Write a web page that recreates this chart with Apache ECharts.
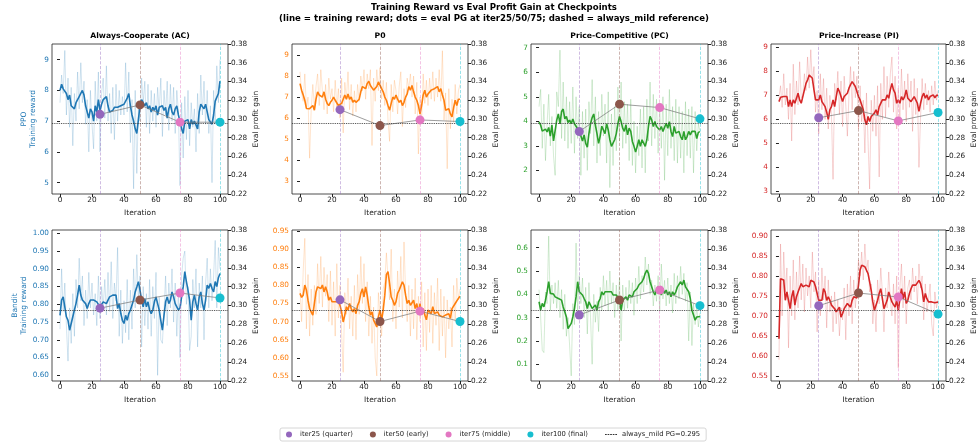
<!DOCTYPE html>
<html>
<head>
<meta charset="utf-8">
<script src="https://cdn.jsdelivr.net/npm/echarts@6/dist/echarts.min.js"></script>
<style>
  html, body { margin: 0; padding: 0; background: #fff; }
  #chart { width: 979px; height: 447px; }
</style>
</head>
<body>
<div id="chart"></div>
<script>
// ---- data ----
const ITERS = Array.from({ length: 101 }, (_, i) => i);
const CHECKPOINTS = [25, 50, 75, 100];
const CHECKPOINT_NAMES = ['iter25 (quarter)', 'iter50 (early)', 'iter75 (middle)', 'iter100 (final)'];
const REF_PG = 0.295;
const REF_NAME = 'always_mild PG=0.295';
const OPPONENTS = ['Always-Cooperate (AC)', 'P0', 'Price-Competitive (PC)', 'Price-Increase (PI)'];
const AGENTS = ['PPO', 'Bandit'];
const X_TICKS = [0, 20, 40, 60, 80, 100];
const RIGHT_TICKS = [0.22, 0.24, 0.26, 0.28, 0.30, 0.32, 0.34, 0.36, 0.38];

// PPO row
const acPpoRaw = [
  7.6,8.5,7.9,9.3,7.2,8.4,6.8,8.1,6.2,7.9,
  7.0,8.6,7.4,8.9,7.6,8.3,6.9,7.7,6.0,8.0,
  6.9,6.1,8.3,7.0,8.6,6.0,7.9,8.4,7.1,8.8,
  7.0,7.9,6.6,8.1,6.4,8.2,7.0,8.0,7.2,7.8,
  7.2,8.9,7.3,8.6,6.3,7.7,4.8,8.0,5.3,7.5,
  7.0,8.4,7.6,8.3,6.8,8.2,6.6,8.0,7.0,7.9,
  6.8,8.1,7.3,8.4,6.5,8.0,7.2,8.3,6.7,8.2,
  7.0,8.1,6.6,8.0,7.3,4.9,7.6,5.8,7.8,6.4,
  8.0,6.2,7.6,6.8,7.4,6.0,7.9,6.6,8.5,7.2,
  8.3,6.9,8.0,6.6,7.5,5.0,8.0,6.9,8.8,7.6,
  9.0];
const acPpoSmooth = [
  8.0,8.2,8.05,8.1,7.9,7.7,7.85,7.5,7.45,7.4,
  7.6,7.55,7.8,7.9,8.0,7.85,7.5,7.3,7.1,7.4,
  7.3,7.0,7.5,7.3,7.7,7.35,7.55,7.7,7.75,7.8,
  7.5,7.3,7.25,7.35,7.45,7.5,7.45,7.4,7.5,7.5,
  7.55,7.6,7.75,7.9,7.5,7.2,7.0,6.75,6.6,7.05,
  7.5,7.7,7.75,7.5,7.6,7.4,7.5,7.3,7.45,7.35,
  7.5,7.2,7.45,7.4,7.5,7.35,7.45,7.1,7.4,7.55,
  7.3,7.2,7.4,7.5,7.2,7.0,6.75,6.6,7.0,6.95,
  7.05,6.75,7.05,6.9,7.0,7.0,6.75,7.3,7.55,7.6,
  7.4,7.55,7.3,7.05,7.0,6.9,7.2,7.65,7.6,7.9,
  8.3];
const acPpoPG = [0.305, 0.315, 0.2966, 0.2966];

const p0PpoRaw = [
  8.2,7.2,6.8,8.1,6.5,7.0,4.1,6.4,7.6,6.5,
  7.5,8.1,6.6,8.3,7.3,6.4,7.6,6.2,7.9,6.9,
  7.4,6.3,7.8,6.5,7.4,6.0,7.9,5.3,7.7,6.9,
  8.2,6.4,7.6,6.1,7.3,6.3,7.6,6.8,8.0,7.3,
  8.3,6.9,8.1,7.4,8.3,4.7,7.9,6.8,8.3,7.3,
  8.4,6.9,7.8,6.6,7.7,5.9,4.9,7.6,6.3,7.8,
  7.3,6.2,7.5,8.2,5.6,7.4,6.5,7.9,7.4,8.1,
  7.0,8.0,6.2,7.7,4.3,7.0,5.8,8.1,6.7,7.8,
  6.6,7.9,6.9,8.2,6.8,7.9,7.0,8.3,6.8,9.2,
  5.9,7.2,3.6,7.4,5.5,6.9,5.8,7.6,6.2,7.3,
  7.6];
const p0PpoSmooth = [
  7.64,7.33,7.1,6.85,6.46,6.4,6.45,6.38,6.6,6.38,
  6.9,7.25,7.1,7.15,7.0,7.25,6.9,6.7,6.6,6.75,
  6.85,7.0,6.85,6.9,6.6,6.55,6.7,6.9,7.1,6.9,
  7.15,6.9,7.0,6.75,6.85,6.75,6.7,6.9,7.25,7.5,
  7.55,7.4,7.64,7.75,7.55,7.5,7.33,7.25,7.5,7.72,
  7.64,7.4,7.25,7.0,6.85,6.6,6.38,6.7,7.0,6.9,
  7.1,6.9,6.75,6.85,6.6,6.75,7.0,7.15,7.5,7.33,
  7.55,7.25,7.0,6.85,6.6,6.2,6.6,7.1,7.33,7.0,
  7.15,7.1,7.33,7.25,7.4,7.33,7.5,7.25,7.4,7.1,
  6.85,6.38,6.3,6.45,6.2,6.06,6.5,6.85,6.6,6.9,
  6.9];
const p0PpoPG = [0.310, 0.293, 0.299, 0.2973];

const pcPpoRaw = [
  4.6,5.3,2.9,4.7,2.4,3.9,5.1,3.0,4.2,2.6,
  1.8,5.2,4.6,6.9,3.3,5.6,3.2,5.0,2.9,4.8,
  3.1,5.4,2.7,5.0,3.3,4.6,1.8,4.4,2.5,4.5,
  2.0,4.8,3.5,5.7,3.0,5.0,2.3,4.4,2.6,5.1,
  3.4,4.7,2.3,5.2,1.3,4.3,2.2,4.6,2.8,5.4,
  3.2,5.6,2.9,4.8,3.1,4.7,2.4,4.9,2.2,4.0,
  1.9,3.8,2.6,4.5,2.1,4.6,1.9,4.9,3.2,5.6,
  3.0,5.1,3.3,4.9,2.7,4.6,2.9,5.0,1.6,4.7,
  2.6,5.3,2.9,4.6,2.4,4.9,2.3,4.6,2.5,4.4,
  1.9,4.8,2.6,4.5,2.5,4.6,1.9,4.4,2.8,3.9,
  3.6];
const pcPpoSmooth = [
  3.98,3.84,3.6,3.55,3.68,3.57,3.75,3.4,3.85,3.2,
  3.15,4.05,4.3,3.9,4.4,4.5,4.1,4.2,3.95,4.05,
  3.9,4.1,3.9,3.95,3.7,3.6,3.4,3.2,3.45,3.1,
  2.95,3.5,3.9,4.15,4.3,3.85,3.5,3.1,3.4,3.8,
  3.85,3.5,3.9,3.65,3.25,2.98,3.05,3.25,3.5,3.9,
  4.2,3.99,3.72,3.59,3.86,3.45,3.72,3.59,3.18,2.98,
  2.75,2.98,3.25,2.98,3.25,3.31,2.98,3.25,3.79,4.2,
  4.06,3.79,3.99,3.79,3.72,3.65,3.79,3.59,3.52,3.92,
  3.72,3.99,3.59,3.38,3.79,3.52,3.45,3.59,3.38,3.25,
  3.59,3.25,3.38,3.59,3.45,3.59,3.52,3.59,3.3,3.55,
  3.58];
const pcPpoPG = [0.2867, 0.3158, 0.3122, 0.3002];

const piPpoRaw = [
  6.9,7.4,6.5,7.9,6.6,7.3,6.0,7.5,5.1,8.3,
  6.2,7.6,6.6,8.4,6.9,7.0,7.9,7.2,8.6,7.3,
  8.9,7.5,8.2,6.3,7.2,5.4,7.9,6.4,7.7,6.0,
  7.3,5.6,7.0,6.2,3.5,7.5,6.8,8.0,6.2,7.6,
  5.7,7.8,6.6,5.3,7.0,8.2,6.4,8.0,6.9,7.8,
  5.6,7.4,5.9,6.8,4.6,7.1,5.1,3.1,6.8,5.5,
  7.0,5.3,7.4,3.6,7.5,6.0,8.2,6.1,7.8,6.5,
  7.9,8.6,6.3,7.8,5.6,7.3,6.0,8.1,6.4,7.6,
  5.9,7.9,6.5,7.6,5.5,7.7,6.2,7.3,4.0,6.1,
  7.7,6.4,7.5,6.6,7.2,6.3,7.4,6.6,7.6,6.8,
  7.2];
const piPpoSmooth = [
  6.74,6.92,6.92,6.95,6.92,6.95,6.53,6.81,6.53,6.81,
  6.67,6.88,7.09,6.81,6.67,6.95,7.23,7.5,7.64,7.85,
  7.92,7.71,7.23,6.81,6.88,6.81,7.02,6.74,6.81,6.53,
  6.3,6.0,6.4,6.53,6.81,6.53,6.95,7.3,7.16,6.95,
  6.74,6.95,6.88,7.09,7.3,7.45,7.57,7.5,7.37,7.3,
  6.95,6.81,6.81,6.4,5.98,5.77,6.12,5.91,6.12,6.05,
  6.26,6.4,6.19,6.53,6.47,6.81,6.74,6.81,7.02,6.88,
  7.23,7.5,7.23,7.09,6.67,6.81,6.67,6.95,6.81,6.95,
  7.23,6.88,6.81,6.74,6.81,6.95,6.88,6.67,6.33,6.67,
  6.95,7.09,6.88,7.02,6.81,6.95,6.88,7.02,6.9,7.0,
  7.0];
const piPpoPG = [0.3013, 0.309, 0.298, 0.3069];

// Bandit row
const acBanditRaw = [
  0.73,0.90,0.78,0.86,0.74,0.64,0.79,0.69,0.83,0.71,
  0.87,0.79,0.93,0.81,0.88,0.74,0.84,0.76,0.89,0.79,
  0.86,0.77,0.83,0.74,0.88,0.76,0.85,0.79,0.87,0.77,
  0.89,0.78,0.92,0.76,0.86,0.81,0.96,0.71,0.84,0.69,
  0.81,0.72,0.87,0.70,0.84,0.73,0.90,0.79,0.94,0.81,
  0.88,0.68,0.85,0.74,0.83,0.73,0.87,0.71,0.85,0.76,
  0.89,0.60,0.82,0.70,0.69,0.78,0.88,0.74,0.86,0.79,
  0.90,0.75,0.86,0.71,0.84,0.65,0.88,0.93,0.95,0.80,
  0.85,0.67,0.71,0.87,0.79,0.90,0.68,0.86,0.79,0.88,
  0.70,0.86,0.93,0.79,0.90,0.81,0.88,0.98,0.79,0.96,
  0.90];
const acBanditSmooth = [
  0.769,0.812,0.821,0.793,0.765,0.755,0.727,0.727,0.765,0.784,
  0.802,0.826,0.854,0.826,0.812,0.816,0.802,0.788,0.802,0.812,
  0.816,0.812,0.807,0.807,0.800,0.793,0.793,0.807,0.812,0.802,
  0.812,0.821,0.821,0.826,0.821,0.826,0.788,0.802,0.774,0.755,
  0.746,0.769,0.755,0.774,0.784,0.779,0.812,0.835,0.849,0.864,
  0.840,0.812,0.793,0.816,0.793,0.807,0.784,0.774,0.784,0.807,
  0.821,0.802,0.784,0.755,0.727,0.769,0.807,0.821,0.802,0.812,
  0.835,0.821,0.802,0.793,0.784,0.790,0.821,0.849,0.892,0.864,
  0.840,0.812,0.755,0.807,0.826,0.802,0.784,0.821,0.835,0.802,
  0.784,0.812,0.854,0.845,0.859,0.845,0.835,0.864,0.850,0.875,
  0.887];
const acBanditPG = [0.2972, 0.3058, 0.3132, 0.308];

const p0BanditRaw = [
  0.79,0.70,0.84,0.93,0.68,0.83,0.66,0.79,0.69,0.80,
  0.72,0.86,0.75,0.88,0.74,0.85,0.77,0.83,0.70,0.84,
  0.69,0.81,0.66,0.86,0.71,0.80,0.67,0.56,0.78,0.72,
  0.82,0.68,0.77,0.66,0.80,0.65,0.83,0.72,0.88,0.75,
  0.86,0.70,0.81,0.66,0.77,0.64,0.74,0.60,0.55,0.78,
  0.72,0.66,0.79,0.81,0.89,0.82,0.76,0.90,0.70,0.79,
  0.68,0.84,0.74,0.88,0.71,0.92,0.78,0.70,0.80,0.66,
  0.79,0.68,0.82,0.65,0.77,0.70,0.81,0.63,0.78,0.62,
  0.79,0.67,0.80,0.64,0.78,0.69,0.82,0.62,0.79,0.66,
  0.77,0.60,0.76,0.68,0.74,0.63,0.80,0.70,0.82,0.76,
  0.79];
const p0BanditSmooth = [
  0.778,0.767,0.773,0.801,0.787,0.759,0.736,0.741,0.718,0.750,
  0.782,0.796,0.801,0.791,0.801,0.782,0.796,0.782,0.759,0.768,
  0.755,0.759,0.755,0.750,0.755,0.745,0.727,0.699,0.718,0.741,
  0.732,0.750,0.736,0.727,0.736,0.722,0.745,0.755,0.778,0.791,
  0.768,0.796,0.773,0.741,0.718,0.727,0.704,0.695,0.685,0.713,
  0.732,0.704,0.732,0.773,0.830,0.838,0.805,0.768,0.759,0.745,
  0.755,0.778,0.787,0.782,0.810,0.801,0.773,0.750,0.759,0.745,
  0.750,0.759,0.736,0.750,0.722,0.750,0.722,0.736,0.718,0.705,
  0.732,0.736,0.722,0.741,0.722,0.722,0.727,0.718,0.722,0.713,
  0.718,0.718,0.713,0.722,0.709,0.736,0.732,0.750,0.755,0.764,
  0.770];
const p0BanditPG = [0.306, 0.283, 0.294, 0.283];

const pcBanditRaw = [
  0.42,0.30,0.16,0.15,0.41,0.36,0.65,0.33,0.44,0.36,
  0.45,0.34,0.46,0.30,0.42,0.25,0.40,0.22,0.30,0.18,
  0.05,0.36,0.27,0.62,0.33,0.48,0.36,0.47,0.30,0.43,
  0.23,0.45,0.30,0.10,0.40,0.28,0.37,0.24,0.43,0.33,
  0.48,0.35,0.46,0.33,0.50,0.36,0.45,0.30,0.44,0.33,
  0.47,0.20,0.44,0.33,0.43,0.34,0.46,0.36,0.45,0.31,
  0.47,0.36,0.52,0.38,0.48,0.41,0.56,0.44,0.53,0.40,
  0.46,0.35,0.44,0.37,0.48,0.33,0.53,0.38,0.46,0.35,
  0.47,0.36,0.44,0.32,0.49,0.36,0.48,0.38,0.52,0.40,
  0.49,0.37,0.45,0.20,0.41,0.18,0.36,0.27,0.35,0.26,
  0.32];
const pcBanditSmooth = [
  0.368,0.332,0.361,0.346,0.375,0.411,0.454,0.404,0.397,0.401,
  0.389,0.397,0.382,0.389,0.375,0.346,0.325,0.303,0.253,0.246,
  0.275,0.303,0.339,0.389,0.454,0.411,0.418,0.397,0.382,0.368,
  0.339,0.368,0.354,0.339,0.332,0.354,0.332,0.368,0.382,0.411,
  0.397,0.411,0.418,0.411,0.404,0.411,0.397,0.389,0.397,0.389,
  0.375,0.332,0.375,0.368,0.389,0.375,0.397,0.404,0.389,0.411,
  0.418,0.425,0.440,0.440,0.454,0.468,0.490,0.504,0.490,0.454,
  0.432,0.411,0.397,0.418,0.432,0.440,0.397,0.425,0.404,0.418,
  0.397,0.411,0.389,0.411,0.397,0.411,0.432,0.425,0.454,0.440,
  0.461,0.432,0.432,0.411,0.382,0.332,0.311,0.289,0.303,0.303,
  0.305];
const pcBanditPG = [0.2899, 0.3058, 0.3164, 0.2998];

const piBanditRaw = [
  0.59,0.88,0.70,0.86,0.76,0.82,0.62,0.80,0.70,0.84,
  0.69,0.81,0.72,0.85,0.74,0.83,0.71,0.82,0.75,0.80,
  0.72,0.86,0.76,0.81,0.66,0.79,0.70,0.82,0.74,0.80,
  0.67,0.79,0.71,0.75,0.66,0.76,0.68,0.74,0.65,0.72,
  0.69,0.77,0.64,0.78,0.70,0.80,0.68,0.79,0.72,0.77,
  0.84,0.80,0.86,0.79,0.88,0.81,0.84,0.76,0.78,0.68,
  0.74,0.66,0.79,0.73,0.82,0.76,0.66,0.77,0.72,0.81,
  0.74,0.70,0.78,0.68,0.80,0.57,0.77,0.83,0.72,0.80,
  0.68,0.77,0.79,0.74,0.82,0.76,0.80,0.73,0.83,0.77,
  0.80,0.69,0.78,0.71,0.74,0.78,0.68,0.65,0.76,0.72,
  0.74];
const piBanditSmooth = [
  0.643,0.793,0.793,0.790,0.739,0.760,0.739,0.718,0.748,0.764,
  0.727,0.748,0.760,0.764,0.781,0.773,0.768,0.777,0.773,0.773,
  0.789,0.794,0.785,0.773,0.756,0.739,0.743,0.739,0.768,0.760,
  0.739,0.748,0.739,0.727,0.731,0.718,0.710,0.706,0.722,0.697,
  0.706,0.718,0.714,0.731,0.735,0.722,0.739,0.748,0.743,0.745,
  0.777,0.815,0.827,0.831,0.823,0.827,0.806,0.785,0.764,0.735,
  0.714,0.718,0.739,0.756,0.768,0.768,0.718,0.714,0.739,0.760,
  0.756,0.735,0.739,0.722,0.739,0.714,0.718,0.768,0.743,0.760,
  0.731,0.739,0.756,0.768,0.777,0.781,0.777,0.781,0.789,0.781,
  0.764,0.735,0.756,0.743,0.735,0.739,0.735,0.740,0.733,0.735,
  0.735];
const piBanditPG = [0.2998, 0.3132, 0.309, 0.2909];

// ---- layout / style ----
const FONT = 'DejaVu Sans';
const LINE_COLORS = ['#1f77b4', '#ff7f0e', '#2ca02c', '#d62728'];
const CP_COLORS = ['#9467bd', '#8c564b', '#e377c2', '#17becf'];
const GRID_LEFT = [52, 292, 531, 771];
const GRID_WIDTH = [176, 176, 177, 176];
const GRID_TOP = [44, 230];
const GRID_HEIGHT = [150, 151];
// small dotted-line glyph for the reference entry in the legend
const DOTTED_ICON = 'path://M0,0h2v1h-2z M3,0h2v1h-2z M6,0h2v1h-2z M9,0h2v1h-2z M12,0h2v1h-2z';

const panels = [
  { raw: acPpoRaw, smooth: acPpoSmooth, pg: acPpoPG, range: [4.63, 9.51], ticks: [5, 6, 7, 8, 9], dec: 0 },
  { raw: p0PpoRaw, smooth: p0PpoSmooth, pg: p0PpoPG, range: [2.4, 9.52], ticks: [3, 4, 5, 6, 7, 8, 9], dec: 0 },
  { raw: pcPpoRaw, smooth: pcPpoSmooth, pg: pcPpoPG, range: [1.04, 7.15], ticks: [2, 3, 4, 5, 6, 7], dec: 0 },
  { raw: piPpoRaw, smooth: piPpoSmooth, pg: piPpoPG, range: [2.89, 9.14], ticks: [3, 4, 5, 6, 7, 8, 9], dec: 0 },
  { raw: acBanditRaw, smooth: acBanditSmooth, pg: acBanditPG, range: [0.584, 1.0094], ticks: [0.6, 0.65, 0.7, 0.75, 0.8, 0.85, 0.9, 0.95, 1.0], dec: 2 },
  { raw: p0BanditRaw, smooth: p0BanditSmooth, pg: p0BanditPG, range: [0.536, 0.953], ticks: [0.55, 0.6, 0.65, 0.7, 0.75, 0.8, 0.85, 0.9, 0.95], dec: 2 },
  { raw: pcBanditRaw, smooth: pcBanditSmooth, pg: pcBanditPG, range: [0.028, 0.676], ticks: [0.1, 0.2, 0.3, 0.4, 0.5, 0.6], dec: 1 },
  { raw: piBanditRaw, smooth: piBanditSmooth, pg: piBanditPG, range: [0.537, 0.915], ticks: [0.55, 0.6, 0.65, 0.7, 0.75, 0.8, 0.85, 0.9], dec: 2 }
];

const grids = [], xAxes = [], yAxes = [], series = [];
const titles = [{
  text: 'Training Reward vs Eval Profit Gain at Checkpoints\n(line = training reward; dots = eval PG at iter25/50/75; dashed = always_mild reference)',
  left: 494, top: 3, textAlign: 'center', padding: 0,
  textStyle: { fontFamily: FONT, fontSize: 8.6, fontWeight: 'bold', color: '#000', lineHeight: 10.5 }
}];

panels.forEach((p, k) => {
  const r = Math.floor(k / 4), c = k % 4;
  const color = LINE_COLORS[c];
  grids.push({
    left: GRID_LEFT[c], top: GRID_TOP[r], width: GRID_WIDTH[c], height: GRID_HEIGHT[r],
    show: true, borderColor: '#222', borderWidth: 0.8, backgroundColor: 'transparent'
  });
  if (r === 0) {
    titles.push({
      text: OPPONENTS[c], left: GRID_LEFT[c] + GRID_WIDTH[c] / 2, top: 32, textAlign: 'center', padding: 0,
      textStyle: { fontFamily: FONT, fontSize: 7.7, fontWeight: 'bold', color: '#000' }
    });
  }
  xAxes.push({
    gridIndex: k, type: 'value', min: -5, max: 105,
    name: 'Iteration', nameLocation: 'middle', nameGap: 15,
    nameTextStyle: { fontFamily: FONT, fontSize: 7.5, color: '#222' },
    axisLine: { show: false },
    axisTick: { customValues: X_TICKS, inside: false, length: 3, lineStyle: { color: '#222' } },
    axisLabel: { customValues: X_TICKS, margin: 3, fontFamily: FONT, fontSize: 7.3, color: '#222' },
    splitLine: { show: false }
  });
  yAxes.push({
    gridIndex: k, type: 'value', position: 'left', min: p.range[0], max: p.range[1],
    name: c === 0 ? AGENTS[r] + '\nTraining reward' : '',
    nameLocation: 'middle', nameGap: r === 0 ? 14 : 23,
    nameTextStyle: { fontFamily: FONT, fontSize: 7.5, color: color, lineHeight: 9 },
    axisLine: { show: false },
    axisTick: { customValues: p.ticks, inside: false, length: 3, lineStyle: { color: '#222' } },
    axisLabel: { customValues: p.ticks, margin: 3, fontFamily: FONT, fontSize: 7.3, color: color,
      formatter: v => v.toFixed(p.dec) },
    splitLine: { show: false }
  });
  yAxes.push({
    gridIndex: k, type: 'value', position: 'right', min: 0.22, max: 0.38,
    name: 'Eval profit gain', nameLocation: 'middle', nameGap: 24,
    nameTextStyle: { fontFamily: FONT, fontSize: 7.5, color: '#222' },
    axisLine: { show: false },
    axisTick: { customValues: RIGHT_TICKS, inside: false, length: 3, lineStyle: { color: '#222' } },
    axisLabel: { customValues: RIGHT_TICKS, margin: 3, fontFamily: FONT, fontSize: 7.3, color: '#222',
      formatter: v => v.toFixed(2) },
    splitLine: { show: false }
  });
  const yl = 2 * k, yr = 2 * k + 1;
  series.push({
    type: 'line', xAxisIndex: k, yAxisIndex: yl, silent: true, symbol: 'none', z: 2,
    data: ITERS.map((x, i) => [x, p.raw[i]]),
    lineStyle: { color: color, width: 1, opacity: 0.2 },
    markLine: {
      silent: true, symbol: ['none', 'none'], label: { show: false }, precision: 4,
      data: CHECKPOINTS.map((x, j) => ({ xAxis: x, lineStyle: { color: CP_COLORS[j], type: 'dashed', width: 0.8, opacity: 0.55 } }))
    }
  });
  series.push({
    type: 'line', xAxisIndex: k, yAxisIndex: yl, silent: true, symbol: 'none', z: 3,
    data: ITERS.map((x, i) => [x, p.smooth[i]]),
    lineStyle: { color: color, width: 1.6 }
  });
  series.push({
    type: 'line', xAxisIndex: k, yAxisIndex: yr, silent: true, symbol: 'none', z: 4,
    data: CHECKPOINTS.map((x, j) => [x, p.pg[j]]),
    lineStyle: { color: '#777', width: 0.9, opacity: 0.8 },
    markLine: {
      silent: true, symbol: ['none', 'none'], label: { show: false }, precision: 4,
      data: [{ yAxis: REF_PG }],
      lineStyle: { color: '#333', type: 'dotted', width: 0.9 }
    }
  });
  CHECKPOINTS.forEach((x, j) => {
    series.push({
      type: 'scatter', name: CHECKPOINT_NAMES[j], xAxisIndex: k, yAxisIndex: yr, z: 5,
      symbolSize: 9, data: [[x, p.pg[j]]], itemStyle: { color: CP_COLORS[j], opacity: 1 }
    });
  });
});

// legend-only entry for the reference line
series.push({
  type: 'line', name: REF_NAME, xAxisIndex: 0, yAxisIndex: 1, data: [], symbol: 'none',
  lineStyle: { color: '#333', type: 'dotted', width: 1 }, itemStyle: { color: '#333' }
});

const chart = echarts.init(document.getElementById('chart'));
chart.setOption({
  animation: false,
  backgroundColor: '#fff',
  title: titles,
  grid: grids,
  xAxis: xAxes,
  yAxis: yAxes,
  legend: {
    left: 280, top: 428, orient: 'horizontal', selectedMode: false,
    itemGap: 17, itemWidth: 12, itemHeight: 6,
    padding: [3, 6], borderColor: '#ccc', borderWidth: 0.8, borderRadius: 2,
    textStyle: { fontFamily: FONT, fontSize: 6.8, color: '#222' },
    data: CHECKPOINT_NAMES.map(n => ({ name: n, icon: 'circle' }))
      .concat([{ name: REF_NAME, icon: DOTTED_ICON, itemStyle: { color: '#333' } }])
  },
  series: series
});
</script>
</body>
</html>
